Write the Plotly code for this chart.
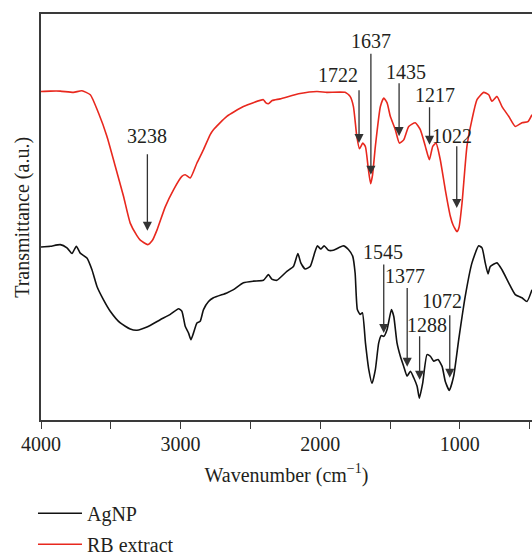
import plotly.graph_objects as go

# RB extract (red) spectrum: wavenumber (cm-1) and transmittance (a.u.)
rb_wn = [4000, 3933, 3862, 3767, 3707, 3647, 3588, 3528, 3468, 3409, 3361, 3313, 3289, 3235, 3203,
         3168, 3110, 3051, 2991, 2967, 2931, 2883, 2836, 2788, 2765, 2669, 2550, 2407, 2391, 2371,
         2344, 2287, 2144, 2024, 1953, 1822, 1786, 1762, 1738, 1719, 1695, 1676, 1655, 1639, 1625,
         1605, 1569, 1545, 1521, 1498, 1462, 1433, 1402, 1366, 1319, 1283, 1247, 1218, 1194, 1170,
         1140, 1104, 1068, 1049, 1020, 1006, 984, 949, 913, 877, 829, 793, 770, 734, 698, 650, 603,
         555, 512, 483]
rb_t = [80.9, 81.0, 81.0, 80.7, 81.1, 80.1, 75.6, 69.9, 62.5, 55.1, 48.5, 45.4, 44.3, 43.2, 44.2,
        46.9, 52.5, 56.7, 60.0, 60.4, 59.6, 63.3, 66.6, 70.3, 71.5, 74.8, 77.2, 78.9, 78.2, 77.9,
        78.7, 79.1, 80.4, 80.9, 80.7, 80.7, 79.7, 77.2, 69.9, 66.8, 68.2, 67.3, 61.7, 58.2, 60.4,
        67.4, 77.2, 79.3, 78.1, 74.8, 71.5, 68.2, 69.0, 72.3, 73.2, 71.5, 67.4, 64.1, 67.4, 68.2,
        64.1, 56.7, 50.2, 48.1, 46.4, 47.4, 53.5, 67.4, 74.0, 78.9, 80.7, 80.1, 78.5, 79.7, 77.2,
        74.8, 72.3, 73.2, 73.5, 75.2]

# AgNP (black) spectrum
ag_wn = [4000, 3933, 3862, 3814, 3778, 3747, 3719, 3671, 3635, 3599, 3552, 3504, 3432, 3361, 3313,
         3241, 3146, 3074, 3015, 2991, 2967, 2943, 2926, 2908, 2883, 2860, 2836, 2800, 2765, 2669,
         2621, 2550, 2478, 2407, 2371, 2347, 2311, 2239, 2192, 2160, 2139, 2108, 2072, 2037, 2020,
         1996, 1972, 1941, 1906, 1834, 1798, 1767, 1750, 1734, 1714, 1698, 1676, 1652, 1629, 1605,
         1581, 1562, 1545, 1521, 1490, 1473, 1450, 1426, 1402, 1378, 1354, 1330, 1306, 1290, 1266,
         1235, 1211, 1187, 1156, 1127, 1104, 1075, 1044, 1008, 961, 913, 865, 841, 818, 798, 782,
         734, 698, 650, 603, 555, 519, 483]
ag_t = [42.6, 42.8, 43.2, 42.4, 41.0, 42.8, 41.1, 39.9, 37.0, 32.9, 29.6, 26.8, 23.9, 22.4, 22.1,
        22.9, 24.7, 26.0, 27.4, 26.8, 23.1, 21.4, 19.8, 21.4, 23.9, 24.3, 27.2, 29.2, 30.1, 31.3,
        32.1, 33.8, 34.2, 34.4, 35.8, 34.7, 34.4, 36.6, 37.8, 41.0, 38.7, 37.2, 37.8, 41.5, 42.9,
        42.1, 42.9, 41.8, 41.8, 42.9, 42.0, 40.3, 36.2, 27.2, 26.0, 26.4, 19.0, 12.4, 9.0, 12.4,
        19.0, 20.8, 20.6, 22.3, 27.2, 25.5, 19.0, 15.7, 13.2, 10.8, 12.0, 10.4, 8.3, 5.4, 9.1,
        16.1, 15.7, 14.5, 14.9, 13.2, 9.5, 7.3, 10.8, 19.8, 30.5, 38.7, 42.9, 42.4, 38.7, 36.0, 37.8,
        38.7, 37.0, 33.8, 30.9, 30.1, 29.2, 32.1]

# Peak labels: label, arrow x, arrow tip y, arrow tail y, text x, text y
peak_labels = ["3238", "1722", "1637", "1435", "1217", "1022", "1545", "1377", "1288", "1072"]
peak_x = [3238, 1722, 1637, 1435, 1217, 1022, 1545, 1377, 1288, 1072]
peak_tip = [46.6, 68.2, 60.4, 69.9, 67.8, 52.2, 21.4, 13.1, 9.9, 10.4]
peak_tail = [65.8, 81.6, 90.6, 83.3, 77.4, 67.8, 38.7, 32.9, 21.0, 26.2]
label_x = [3238, 1875, 1637, 1389, 1175, 1054, 1552, 1390, 1235, 1127]
label_y = [69.9, 85.0, 93.3, 85.7, 80.1, 69.9, 41.5, 35.4, 23.5, 29.2]

x_ticks = [4000, 3000, 2000, 1000]

FONT = "Liberation Serif"
FS = 20
TXT = "#231f20"
AX = "#3a3a3a"

fig = go.Figure()
fig.add_trace(go.Scatter(x=ag_wn, y=ag_t, mode="lines", name="AgNP", legend="legend",
                         line=dict(color="#111111", width=1.6, shape="spline", smoothing=0.5)))
fig.add_trace(go.Scatter(x=rb_wn, y=rb_t, mode="lines", name="RB extract", legend="legend2",
                         line=dict(color="#e8281e", width=1.6, shape="spline", smoothing=0.5)))

anns = []
for lab, px_, tip, tail, tx, ty in zip(peak_labels, peak_x, peak_tip, peak_tail, label_x, label_y):
    anns.append(dict(x=px_, y=tip, ax=px_, ay=tail, xref="x", yref="y", axref="x", ayref="y",
                     text="", showarrow=True, arrowhead=2, arrowsize=1.4, arrowwidth=1.3,
                     arrowcolor="#333333", standoff=0, startstandoff=0))
    anns.append(dict(x=tx, y=ty, xref="x", yref="y", text=lab, showarrow=False,
                     font=dict(family=FONT, size=FS, color=TXT)))

# y-axis title as rotated text left of the plot
anns.append(dict(x=-0.039, y=0.5, xref="paper", yref="paper", text="Transmittance (a.u.)",
                 textangle=-90, showarrow=False, xanchor="center", yanchor="middle",
                 font=dict(family=FONT, size=FS, color=TXT)))

leg_common = dict(xref="container", yref="container", xanchor="left", yanchor="middle",
                  font=dict(family=FONT, size=FS, color=TXT), bgcolor="rgba(0,0,0,0)",
                  borderwidth=0, itemwidth=44)
fig.update_layout(
    width=532, height=556,
    margin=dict(l=41, r=0, t=14, b=136, autoexpand=False),
    paper_bgcolor="white", plot_bgcolor="white",
    font=dict(family=FONT, size=FS, color=TXT),
    showlegend=True,
    legend=dict(x=0.062, y=0.077, **leg_common),
    legend2=dict(x=0.062, y=0.021, **leg_common),
    annotations=anns,
)
fig.update_xaxes(range=[4000, 483], autorange=False, tickmode="array", tickvals=x_ticks,
                 ticktext=[str(v) for v in x_ticks], automargin=False,
                 ticks="outside", ticklen=7, tickwidth=1.3, tickcolor=AX, ticklabelstandoff=-2,
                 minor=dict(dtick=500, tick0=0, ticks="outside", ticklen=7, tickwidth=1.3, tickcolor=AX),
                 showline=True, linecolor=AX, linewidth=1.5, mirror=True,
                 showgrid=False, zeroline=False,
                 title=dict(text="Wavenumber (cm<sup>−1</sup>)", standoff=14,
                            font=dict(family=FONT, size=FS, color=TXT)),
                 tickfont=dict(family=FONT, size=FS, color=TXT))
fig.update_yaxes(range=[0, 100], autorange=False, showticklabels=False, ticks="",
                 showline=True, linecolor=AX, linewidth=1.5, mirror=False, automargin=False,
                 showgrid=False, zeroline=False)

fig.write_html("out.html")
